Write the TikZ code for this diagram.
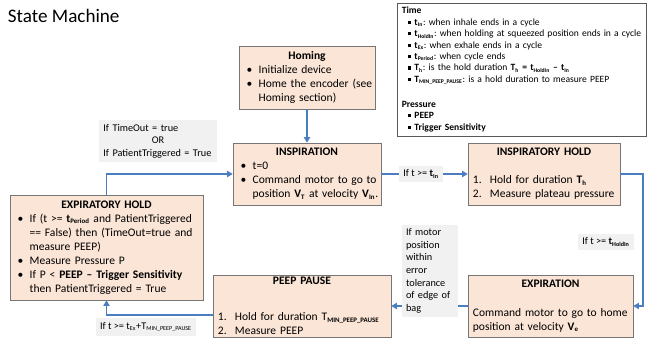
\documentclass[tikz,border=0pt]{standalone}
\usepackage{fontspec}
\setmainfont{Carlito}
\usetikzlibrary{arrows.meta}
\frenchspacing

\definecolor{peach}{RGB}{251,229,214}
\definecolor{boxedge}{RGB}{118,118,118}
\definecolor{linkblue}{RGB}{74,126,193}
\definecolor{notegray}{RGB}{241,241,241}

\newcommand{\sbs}[1]{\textsubscript{\scalebox{0.85}{#1}}}
\newcommand{\bitem}[1]{\par\hangindent=12pt\hangafter=1\noindent\makebox[12pt][l]{\hspace{3.5pt}\textbullet}#1\par}
\newcommand{\nitem}[2]{\par\hangindent=13.6pt\hangafter=1\noindent\makebox[13.6pt][l]{\hspace{1.5pt}#1}#2\par}
\newcommand{\sitem}[1]{\par\hangindent=10pt\hangafter=1\noindent\makebox[10pt][l]{\hspace{5.3pt}\rule[1pt]{2.2pt}{2.2pt}}#1\par}

\begin{document}
\begin{tikzpicture}[
    note/.style={fill=notegray, inner sep=2.8pt, align=left, font=\fontsize{7.3}{9}\selectfont},
    flow/.style={->, >={Triangle[length=4pt,width=4.5pt]}, draw=linkblue, line width=0.8pt}]
  \useasboundingbox (0,0) rectangle (16.2,-8.625);

  \node[anchor=base west, font=\fontsize{13.6}{16}\selectfont] (title) at (0.075,-0.55) {State Machine};

  % legend
  \node[draw=black!65, fill=white, inner xsep=2.5pt, inner ysep=1pt, text width=6.05cm, minimum height=3.325cm, align=left,
        font=\fontsize{6.8}{8.1}\selectfont] (legend) at (13.035,-1.7375) {%
    \noindent\hspace*{1pt}\textbf{Time}\par
    \sitem{\textbf{t\sbs{In}}: when inhale ends in a cycle}
    \sitem{\textbf{t\sbs{HoldIn}}: when holding at squeezed position ends in a cycle}
    \sitem{\textbf{t\sbs{Ex}}: when exhale ends in a cycle}
    \sitem{\textbf{t\sbs{Period}}: when cycle ends}
    \sitem{\textbf{T\sbs{h}}: is the hold duration \textbf{T\sbs{h} = t\sbs{HoldIn} – t\sbs{In}}}
    \sitem{\textbf{T\sbs{MIN\_PEEP\_PAUSE}}: is a hold duration to measure PEEP}
    \vspace{9.7pt}
    \noindent\hspace*{1pt}\textbf{Pressure}\par
    \sitem{\textbf{PEEP}}
    \sitem{\textbf{Trigger Sensitivity}}};

  \begin{scope}[every node/.style={rectangle, draw=boxedge, fill=peach, inner xsep=2pt, inner ysep=1pt, align=left,
                                   font=\fontsize{8.2}{10}\selectfont}]
    \node[minimum width=3.4cm, minimum height=1.575cm, text width=3.26cm] (homing) at (7.675,-1.9375) {%
      \centerline{\textbf{Homing}}
      \bitem{Initialize device}
      \bitem{Home the encoder (see\newline Homing section)}};
    \node[minimum width=3.7cm, minimum height=1.55cm, text width=3.56cm] (insp) at (7.675,-4.35) {%
      \centerline{\textbf{INSPIRATION}}
      \bitem{t=0}
      \bitem{Command motor to go to\newline position \textbf{V\sbs{T}} at velocity \textbf{V\sbs{In}}.}};
    \node[minimum width=3.8cm, minimum height=1.55cm, text width=3.66cm] (ihold) at (13.6,-4.35) {%
      \centerline{\textbf{INSPIRATORY HOLD}}\vspace{10pt}
      \nitem{1.}{Hold for duration \textbf{T\sbs{h}}}
      \nitem{2.}{Measure plateau pressure}};
    \node[minimum width=4.125cm, minimum height=1.55cm, text width=3.985cm] (exp) at (13.7625,-7.65) {%
      \centerline{\textbf{EXPIRATION}}\vspace{10.6pt}
      \noindent\hspace*{1.5pt}Command motor to go to home\\\hspace*{1.5pt}position at velocity \textbf{V\sbs{e}}\par};
    \node[minimum width=4.45cm, minimum height=1.55cm, text width=4.31cm] (peep) at (7.55,-7.65) {%
      \centerline{\textbf{PEEP PAUSE}}\vspace{15.6pt}
      \nitem{1.}{Hold for duration T\sbs{\textbf{MIN\_PEEP\_PAUSE}}}
      \nitem{2.}{Measure PEEP}};
    \node[minimum width=4.825cm, minimum height=2.625cm, text width=4.685cm] (exhold) at (2.6625,-6.1875) {%
      \centerline{\textbf{EXPIRATORY HOLD}}
      \bitem{If (t >= \textbf{t\sbs{Period}} and PatientTriggered\newline == False) then (TimeOut=true and\newline measure PEEP)}
      \bitem{Measure Pressure P}
      \bitem{If P < \textbf{PEEP – Trigger Sensitivity}\newline then PatientTriggered = True}};
  \end{scope}

  \coordinate (cr) at (16.075,-7.65);
  \coordinate (cl) at (2.6625,-7.875);

  \draw[flow] (homing) -- (insp);
  \draw[flow] (insp) -- node[note, pos=0.46] (cin) {If t >= \textbf{t\sbs{In}}} (ihold);
  \draw[flow] (ihold.east) -| (cr) -- (exp.east);
  \draw[flow] (exp.west) -- (peep.east);
  \draw[flow] (peep.west |- cl) -- (cl) -- (exhold.south);
  \draw[flow] (exhold.north) |- (insp.west);

  \node[note] (choldin) at (15.15,-6.05) {If t >= \textbf{t\sbs{HoldIn}}};
  \node[note, text width=1.2cm] (cmotor) at (10.75,-6.775) {If motor\\position\\within\\error\\tolerance\\of edge of\\bag};
  \node[note] (cpeep) at (3.65,-8.175) {If t >= t\sbs{Ex}+T\sbs{MIN\_PEEP\_PAUSE}};
  \node[note, text width=2.73cm] (ctrig) at (3.95,-3.525) {If TimeOut = true\par\centerline{OR}If PatientTriggered = True};
\end{tikzpicture}
\end{document}
